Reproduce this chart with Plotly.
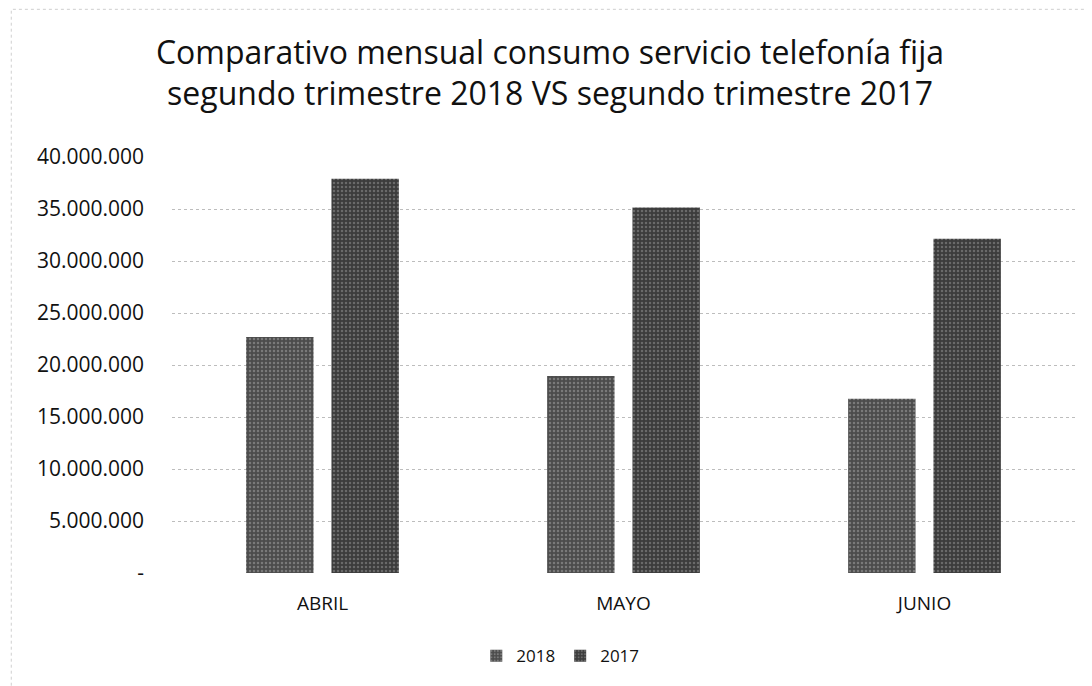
import plotly.graph_objects as go

months = ["ABRIL", "MAYO", "JUNIO"]
v2018 = [22700000, 18950000, 16750000]
v2017 = [37900000, 35150000, 32150000]
tick_vals = [0, 5000000, 10000000, 15000000, 20000000, 25000000, 30000000, 35000000, 40000000]
tick_text = ["-", "5.000.000", "10.000.000", "15.000.000", "20.000.000", "25.000.000",
             "30.000.000", "35.000.000", "40.000.000"]

FONT = "Open Sans, Lato, sans-serif"

fig = go.Figure()
fig.add_trace(go.Bar(name="2018", x=months, y=v2018,
                     marker=dict(color="#4c4c4c", line=dict(width=0),
                                 pattern=dict(shape=".", fgcolor="#a8a8a8", size=4, solidity=0.3))))
fig.add_trace(go.Bar(name="2017", x=months, y=v2017,
                     marker=dict(color="#3c3c3c", line=dict(width=0),
                                 pattern=dict(shape=".", fgcolor="#989898", size=4, solidity=0.3))))

fig.update_layout(
    width=1084, height=678,
    paper_bgcolor="white", plot_bgcolor="white",
    margin=dict(l=164, r=17, t=149, b=111),
    barmode="group", bargap=0.433, bargroupgap=0.21,
    font=dict(family=FONT, color="#222"),
    title=dict(text="Comparativo mensual consumo servicio telefonía fija<br>segundo trimestre 2018 VS segundo trimestre 2017",
               x=0.5, xanchor="center", y=0.918, yanchor="middle",
               font=dict(size=32, color="#111", family=FONT)),
    xaxis=dict(showgrid=False, showline=False, ticks="", ticklabelstandoff=17,
               tickfont=dict(size=19, color="#111")),
    yaxis=dict(range=[0, 40000000], tickvals=tick_vals, ticktext=tick_text,
               showgrid=True, gridcolor="#bdbdbd", griddash="dot", gridwidth=1,
               zeroline=False, showline=False, ticks="", ticklabelstandoff=27,
               tickfont=dict(size=21, color="#111")),
    legend=dict(orientation="h", x=0.43, xanchor="center", y=-0.2, yanchor="middle",
                font=dict(size=17, color="#111"), itemwidth=30, traceorder="normal"),
    shapes=[dict(type="rect", xref="paper", yref="paper", x0=-0.178, x1=1.06, y0=-0.32, y1=1.355,
                 line=dict(color="#cfcfcf", width=1, dash="dot"))],
)

fig.write_html("out.html")
